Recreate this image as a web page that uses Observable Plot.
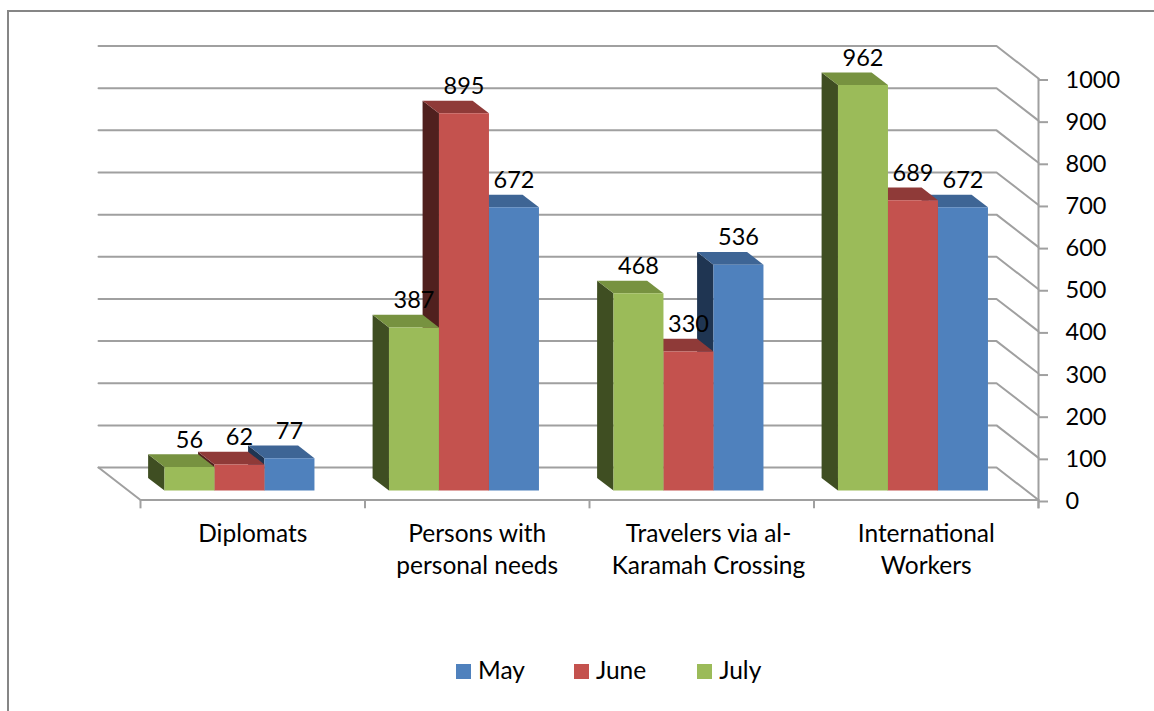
<!DOCTYPE html>
<html>
<head>
<meta charset="utf-8">
<script src="https://cdn.jsdelivr.net/npm/d3@7"></script>
<script src="https://cdn.jsdelivr.net/npm/@observablehq/plot@0.6"></script>
<style>
  html, body { margin: 0; padding: 0; background: #fff; }
  #page { position: relative; width: 1154px; height: 711px; overflow: hidden; font-family: Lato, sans-serif; }
  #frame { position: absolute; left: 7px; top: 10px; right: 0; bottom: 0; border: 2px solid #868686; border-bottom: none; border-right: none; box-sizing: border-box; }
  #chart { position: absolute; left: 0; top: 0; }
  #legend { position: absolute; left: 456px; top: 655px; display: flex; font-size: 24.5px; line-height: 30px; color: #000; }
  .item { display: flex; align-items: center; }
  .item i { display: block; width: 15px; height: 15px; margin-right: 7px; position: relative; top: 1px; }
</style>
</head>
<body>
<div id="page">
  <div id="frame"></div>
  <div id="chart"></div>
  <div id="legend"></div>
</div>
<script>
const categories = ["Diplomats", "Persons with\npersonal needs", "Travelers via al-\nKaramah Crossing", "International\nWorkers"];
const seriesNames = ["May", "June", "July"];
const may = [77, 672, 536, 672];
const june = [62, 895, 330, 689];
const july = [56, 387, 468, 962];
const yTicks = [0, 100, 200, 300, 400, 500, 600, 700, 800, 900, 1000];
const frontColors = { May: "#4f81bd", June: "#c4524e", July: "#9bbb59" };
const topColors = { May: "#3e6595", June: "#8f3a38", July: "#779240" };
const sideColors = { May: "#1f3552", June: "#50201e", July: "#3f4e22" };
const legendGaps = { May: "49px", June: "51px", July: "0" };

// Oblique projection: depth d (0 = front edge, 1 = back wall) shifts a point left and up, in data units.
const depthX = 0.187;
const depthY = 77;
const barFront = 0.29;
const barBack = 0.68;
const barStart = 0.161;
const barWidth = 0.2227;
const px = (c, d) => c - d * depthX;
const py = (v, d) => v + d * depthY;

const values = { May: may, June: june, July: july };
const order = ["July", "June", "May"]; // left to right inside each category

const faces = [];
const addFace = (id, fill, pts) => pts.forEach(([x, y]) => faces.push({ id, fill, x, y }));
const labels = [];
categories.forEach((_, c) => {
  // Paint right to left: the left bar is nearer the viewer.
  [2, 1, 0].forEach((i) => {
    const s = order[i];
    const v = values[s][c];
    const a = c + barStart + i * barWidth;
    const b = a + barWidth;
    const key = `${c}-${s}`;
    addFace(key + "-side", sideColors[s], [
      [px(a, barFront), py(0, barFront)], [px(a, barBack), py(0, barBack)],
      [px(a, barBack), py(v, barBack)], [px(a, barFront), py(v, barFront)]
    ]);
    addFace(key + "-top", topColors[s], [
      [px(a, barFront), py(v, barFront)], [px(a, barBack), py(v, barBack)],
      [px(b, barBack), py(v, barBack)], [px(b, barFront), py(v, barFront)]
    ]);
    addFace(key + "-front", frontColors[s], [
      [px(a, barFront), py(0, barFront)], [px(a, barFront), py(v, barFront)],
      [px(b, barFront), py(v, barFront)], [px(b, barFront), py(0, barFront)]
    ]);
    labels.push({ x: px((a + b) / 2, barFront), y: py(v, barFront), v });
  });
});

const grid = [];
yTicks.forEach((t) => {
  grid.push({ t, x: px(0, 1), y: py(t, 1) }, { t, x: px(4, 1), y: py(t, 1) }, { t, x: 4, y: t });
});
const floorLeft = [{ x: px(0, 1), y: py(0, 1) }, { x: 0, y: 0 }, { x: 4, y: 0 }];
const catTicks = [0, 1, 2, 3, 4];

const gridColor = "#a0a0a0";
const numberSize = 23.5;
const labelSize = 24.5;
const chart = Plot.plot({
  width: 1154,
  height: 640,
  marginLeft: 140,
  marginRight: 116,
  marginTop: 78,
  marginBottom: 140.5,
  style: { fontFamily: "Lato, sans-serif", background: "transparent", overflow: "visible" },
  x: { type: "linear", domain: [0, 4], axis: null },
  y: { type: "linear", domain: [0, 1000], axis: null },
  marks: [
    Plot.line(grid, { x: "x", y: "y", z: "t", stroke: gridColor, strokeWidth: 2 }),
    Plot.line(floorLeft, { x: "x", y: "y", stroke: gridColor, strokeWidth: 2 }),
    Plot.ruleX(catTicks, { x: (d) => d, y1: 0, y2: -21, stroke: gridColor, strokeWidth: 2 }),
    Plot.ruleX([4], { x: (d) => d, y1: -21, y2: 1000, stroke: gridColor, strokeWidth: 2 }),
    Plot.axisY({
      anchor: "right",
      ticks: yTicks,
      tickSize: 9,
      tickPadding: 18,
      tickFormat: (d) => String(d),
      stroke: gridColor,
      strokeWidth: 2,
      fontSize: numberSize,
      fill: "#000",
      textAnchor: "start",
      textStroke: "none",
      dy: 1.5,
      label: null
    }),
    Plot.line(faces, { x: "x", y: "y", z: "id", fill: "fill", stroke: null, curve: "linear-closed" }),
    Plot.text(labels, { x: "x", y: "y", text: (d) => String(d.v), dy: -27, fontSize: numberSize, fill: "#000" }),
    Plot.text(categories, {
      x: (_, i) => i + (i === 2 ? 0.53 : 0.5),
      y: 0,
      text: (d) => d,
      dy: 19,
      lineAnchor: "top",
      lineHeight: 1.31,
      fontSize: labelSize,
      fill: "#000"
    })
  ]
});
document.getElementById("chart").appendChild(chart);

const legend = document.getElementById("legend");
seriesNames.forEach((s) => {
  const item = document.createElement("div");
  item.className = "item";
  item.style.marginRight = legendGaps[s];
  const sw = document.createElement("i");
  sw.style.background = frontColors[s];
  item.appendChild(sw);
  item.appendChild(document.createTextNode(s));
  legend.appendChild(item);
});
</script>
</body>
</html>
